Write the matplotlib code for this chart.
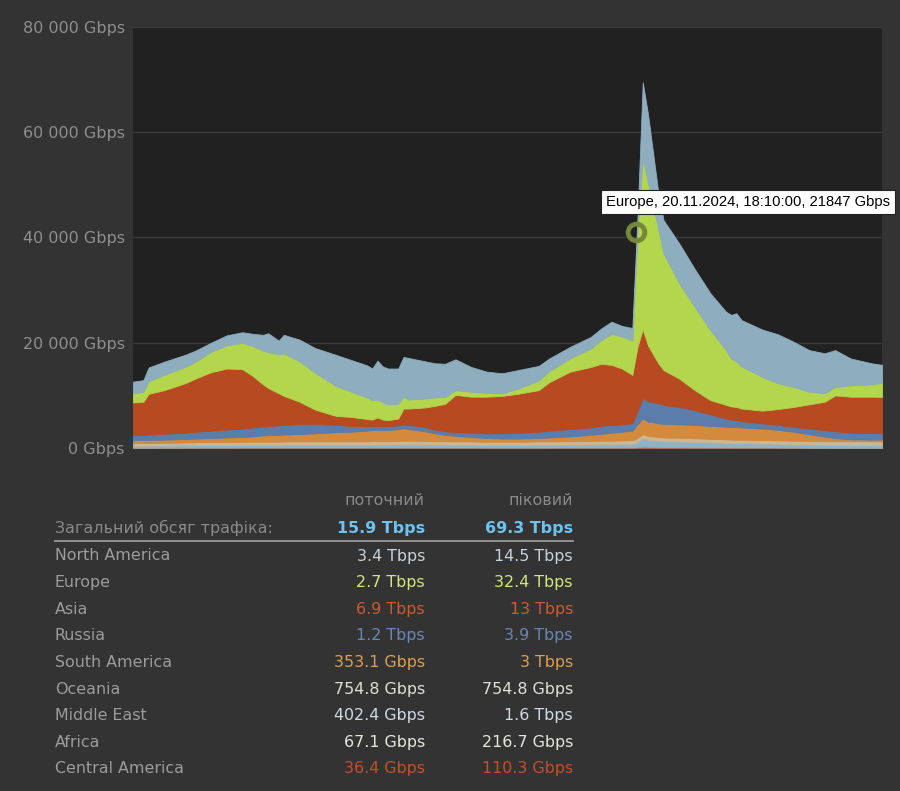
import matplotlib
matplotlib.use("Agg")
import matplotlib.pyplot as plt

# minutes since 20.11.2024 02:00
minutes = [0, 20, 30, 60, 100, 120, 150, 180, 210, 230, 250, 260, 280, 290, 320, 350,
           390, 420, 450, 460, 470, 480, 490, 510, 520, 530, 560, 580, 600, 620, 650, 680,
           710, 740, 780, 800, 840, 880, 900, 920, 940, 960, 970, 980, 990, 1000, 1010, 1020,
           1050, 1080, 1110, 1140, 1150, 1160, 1170, 1210, 1240, 1270, 1300, 1330, 1350, 1380,
           1420, 1440]

# Gbps per region
north_america = [2200, 2200, 2600, 2500, 2300, 2100, 1700, 1900, 2000, 2300, 3000, 3600, 2600, 3500, 4100, 4700,
                 5900, 6000, 6100, 6000, 7400, 6800, 6800, 6700, 7500, 7900, 7100, 6500, 6300, 5850, 4700, 4000,
                 3800, 3500, 2800, 2400, 2200, 2200, 2200, 2300, 2000, 2400, 2900, 14500, 13000, 10000, 7000, 6300,
                 7600, 7200, 7000, 7300, 8300, 9100, 8800, 9000, 9300, 8600, 7900, 7600, 7000, 5100, 4000, 3400]
europe = [1750, 1900, 2400, 2900, 3100, 3200, 3900, 4400, 5000, 5700, 6400, 6800, 7400, 8100, 7700, 7000,
          5700, 4800, 4100, 3700, 3400, 3300, 3000, 2800, 2300, 1700, 1700, 1600, 1300, 900, 950, 750,
          500, 1000, 1800, 2100, 2500, 3500, 4500, 5900, 6100, 6500, 21850, 32400, 31000, 28200, 25400, 22200,
          18100, 15800, 13300, 10400, 9100, 8700, 8000, 6400, 4900, 3800, 2400, 1600, 1600, 2150, 2350, 2700]
asia = [6250, 6300, 7750, 8300, 9400, 10100, 11100, 11600, 11300, 9800, 8000, 7250, 6100, 5500, 4200, 2700,
        1700, 1700, 1400, 1300, 1650, 1300, 1200, 1300, 3000, 3100, 3700, 4500, 5200, 7100, 6850, 6950,
        7100, 7400, 7900, 9200, 10900, 11500, 11800, 11400, 10600, 9200, 12250, 13000, 10600, 9100, 7600, 6600,
        5400, 3800, 2700, 2600, 2500, 2500, 2400, 2400, 3000, 3800, 4600, 5400, 6800, 6850, 6900, 6900]
russia = [900, 950, 1000, 1100, 1200, 1300, 1400, 1500, 1600, 1700, 1700, 1700, 1800, 1850, 1950, 1800,
          1400, 1100, 800, 700, 700, 700, 700, 700, 750, 800, 800, 700, 700, 700, 800, 900,
          1000, 1100, 1200, 1300, 1400, 1400, 1500, 1500, 1400, 1400, 2500, 3900, 3900, 3800, 3800, 3600,
          3300, 2800, 2200, 1550, 1400, 1350, 1200, 1000, 950, 900, 1100, 1250, 1300, 1250, 1250, 1200]
south_america = [600, 600, 600, 600, 650, 700, 750, 850, 900, 1000, 1200, 1250, 1300, 1300, 1400, 1550,
                 1750, 1850, 2050, 2100, 2150, 2100, 2100, 2250, 2350, 2200, 1850, 1500, 1200, 1050, 850, 700,
                 600, 600, 650, 750, 900, 1150, 1300, 1500, 1650, 1800, 2600, 3000, 2700, 2700, 2600, 2600,
                 2550, 2550, 2450, 2400, 2400, 2350, 2300, 2200, 2000, 1700, 1250, 850, 600, 370, 330, 353]
oceania = [480, 500, 500, 520, 540, 560, 580, 580, 600, 600, 600, 600, 600, 620, 620, 620,
           620, 620, 620, 640, 640, 640, 640, 660, 680, 680, 660, 640, 640, 620, 620, 600,
           600, 600, 620, 620, 640, 660, 680, 680, 700, 720, 740, 740, 740, 730, 720, 710,
           700, 690, 680, 670, 660, 660, 660, 650, 650, 660, 680, 700, 710, 730, 745, 755]
middle_east = [290, 320, 320, 335, 365, 380, 410, 410, 425, 425, 425, 425, 425, 450, 450, 450,
               450, 450, 450, 480, 480, 480, 480, 500, 530, 530, 500, 480, 480, 450, 450, 435,
               435, 435, 465, 465, 480, 510, 530, 530, 555, 570, 890, 1600, 1245, 1170, 1095, 1020,
               995, 920, 845, 770, 745, 745, 745, 670, 635, 590, 535, 480, 475, 442, 420, 402]
africa = [90, 90, 90, 100, 100, 110, 110, 110, 120, 120, 120, 120, 120, 120, 120, 120,
          120, 120, 120, 120, 120, 120, 120, 130, 130, 130, 130, 120, 120, 120, 120, 110,
          110, 110, 110, 110, 120, 120, 130, 130, 130, 140, 180, 217, 210, 200, 190, 180,
          170, 160, 150, 140, 130, 130, 130, 120, 110, 100, 90, 80, 75, 70, 68, 67]
central_america = [40, 40, 40, 45, 45, 50, 50, 50, 55, 55, 55, 55, 55, 60, 60, 60,
                   60, 60, 60, 60, 60, 60, 60, 60, 60, 60, 60, 60, 60, 60, 60, 55,
                   55, 55, 55, 55, 60, 60, 60, 60, 65, 70, 90, 110, 105, 100, 95, 90,
                   85, 80, 75, 70, 65, 65, 65, 60, 55, 50, 45, 40, 40, 38, 37, 36]

regions = ["North America", "Europe", "Asia", "Russia", "South America",
           "Oceania", "Middle East", "Africa", "Central America"]
current = ["3.4 Tbps", "2.7 Tbps", "6.9 Tbps", "1.2 Tbps", "353.1 Gbps",
           "754.8 Gbps", "402.4 Gbps", "67.1 Gbps", "36.4 Gbps"]
peak = ["14.5 Tbps", "32.4 Tbps", "13 Tbps", "3.9 Tbps", "3 Tbps",
        "754.8 Gbps", "1.6 Tbps", "216.7 Gbps", "110.3 Gbps"]
total_current = "15.9 Tbps"
total_peak = "69.3 Tbps"

area_colors = ["#8eadbe", "#b3d64c", "#b84a22", "#5a7dab", "#d48a3c",
               "#cdb692", "#8fb3c6", "#9c9c92", "#b0502e"]
text_colors = ["#c5d3dc", "#d3e87c", "#cf5a2e", "#6b86b4", "#dea050",
               "#e0e0d6", "#cfdbe3", "#e6e6dc", "#cc4b2a"]

fig = plt.figure(figsize=(9, 7.91), dpi=100, facecolor="#333333")
ax = fig.add_axes([133 / 900, 1 - 448 / 791, 749 / 900, 421 / 791])
ax.set_facecolor("#212121")

layers = [central_america, africa, middle_east, oceania, south_america,
          russia, asia, europe, north_america]
polys = ax.stackplot(minutes, *layers, colors=area_colors[::-1], linewidth=0.6)
for p, c in zip(polys, area_colors[::-1]):
    p.set_edgecolor(c)

ax.set_xlim(0, 1440)
ax.set_ylim(0, 80000)
yt = [0, 20000, 40000, 60000, 80000]
ax.set_yticks(yt)
ax.set_yticklabels([f"{v:,}".replace(",", " ") + " Gbps" for v in yt],
                   color="#8e8e8e", fontsize=11.5)
ax.set_xticks([])
ax.tick_params(axis="y", length=0, pad=6)
ax.grid(axis="y", color="#3a3a3a", linewidth=1)
ax.set_axisbelow(True)
for s in ax.spines.values():
    s.set_visible(False)

# hovered point: Europe at 18:10
i = minutes.index(970)
y_eu = sum(l[i] for l in layers[:8])
ax.plot(minutes[i] - 3, y_eu, marker="o", ms=12, mfc="none", mec="#76863a", mew=3.5,
        clip_on=False, zorder=5)
fig.text(606 / 900, 1 - 202 / 791, "Europe, 20.11.2024, 18:10:00, 21847 Gbps",
         family="Liberation Sans", fontsize=10.6, color="black", va="center", ha="left",
         bbox=dict(boxstyle="square,pad=0.35", fc="white", ec="#222222", lw=0.8))

# summary table
W, H = 900, 791
def fy(y):
    return 1 - y / H

lx, c1, c2 = 55 / W, 425 / W, 573 / W
fs = 11.4
fig.text(c1, fy(501), "поточний", color="#8a8a8a", fontsize=fs, ha="right", va="center")
fig.text(c2, fy(501), "піковий", color="#8a8a8a", fontsize=fs, ha="right", va="center")
fig.text(lx, fy(528), "Загальний обсяг трафіка:", color="#8a8a8a", fontsize=fs, va="center")
fig.text(c1, fy(528), total_current, color="#6cc3f2", fontsize=fs, fontweight="bold",
         ha="right", va="center")
fig.text(c2, fy(528), total_peak, color="#6cc3f2", fontsize=fs, fontweight="bold",
         ha="right", va="center")
fig.add_artist(plt.Line2D([lx, c2], [fy(541), fy(541)], color="#9a9a9a", lw=1.3))

row_y = 556
for name, cur, pk, col in zip(regions, current, peak, text_colors):
    fig.text(lx, fy(row_y), name, color="#9c9c9c", fontsize=fs, va="center")
    fig.text(c1, fy(row_y), cur, color=col, fontsize=fs, ha="right", va="center")
    fig.text(c2, fy(row_y), pk, color=col, fontsize=fs, ha="right", va="center")
    row_y += 26.6

fig.savefig("out.png", dpi=100, facecolor=fig.get_facecolor())
